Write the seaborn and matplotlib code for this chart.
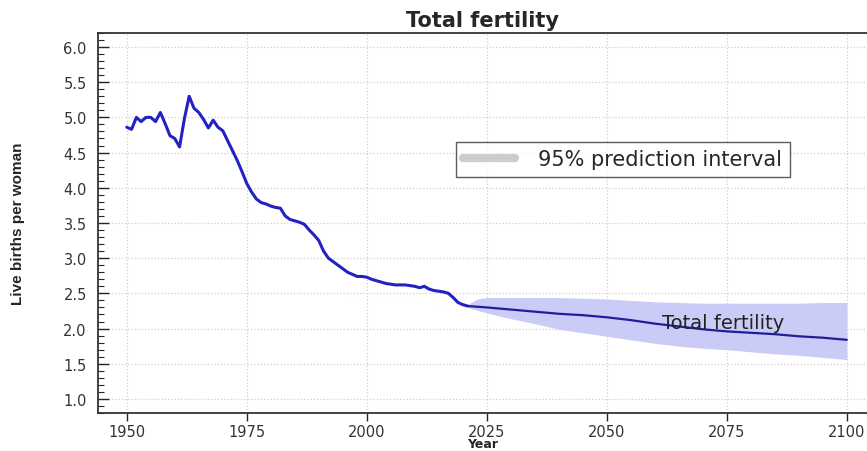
import numpy as np
import pandas as pd
import matplotlib
matplotlib.use("Agg")
import matplotlib.pyplot as plt
import seaborn as sns
from matplotlib.lines import Line2D
from matplotlib.ticker import MultipleLocator

# observed total fertility, 1950-2021
years_hist = list(range(1950, 2022))
tfr_hist = [4.86, 4.83, 5.00, 4.94, 5.00, 5.00, 4.94, 5.07, 4.91, 4.74,
            4.70, 4.58, 4.98, 5.30, 5.13, 5.07, 4.97, 4.85, 4.96, 4.86,
            4.81, 4.67, 4.53, 4.39, 4.23, 4.06, 3.94, 3.84, 3.79, 3.77,
            3.74, 3.72, 3.71, 3.60, 3.55, 3.53, 3.51, 3.48, 3.40, 3.33,
            3.25, 3.10, 3.00, 2.95, 2.90, 2.85, 2.80, 2.77, 2.74, 2.74,
            2.73, 2.70, 2.68, 2.66, 2.64, 2.63, 2.62, 2.62, 2.62, 2.61,
            2.60, 2.58, 2.60, 2.56, 2.54, 2.53, 2.52, 2.50, 2.44, 2.37,
            2.34, 2.32]

# projection with 95% prediction interval
years_proj = [2021, 2023, 2025, 2030, 2035, 2040, 2045, 2050, 2055, 2060,
              2065, 2070, 2075, 2080, 2085, 2090, 2095, 2100]
tfr_proj = [2.32, 2.31, 2.30, 2.27, 2.24, 2.21, 2.19, 2.16, 2.12, 2.07,
            2.03, 1.99, 1.96, 1.94, 1.92, 1.89, 1.87, 1.84]
pi_upper = [2.34, 2.42, 2.44, 2.44, 2.44, 2.44, 2.43, 2.42, 2.40, 2.38,
            2.37, 2.36, 2.36, 2.36, 2.36, 2.36, 2.37, 2.37]
pi_lower = [2.30, 2.26, 2.22, 2.14, 2.07, 1.99, 1.94, 1.89, 1.84, 1.79,
            1.75, 1.72, 1.70, 1.67, 1.64, 1.62, 1.59, 1.56]

hist = pd.DataFrame({"year": years_hist, "tfr": tfr_hist})
proj = pd.DataFrame({"year": years_proj, "tfr": tfr_proj,
                     "lo": pi_lower, "hi": pi_upper})

sns.set_style("white")
plt.rcParams["font.family"] = ["DejaVu Sans"]

fig = plt.figure(figsize=(8.67, 4.52), dpi=100)
ax = fig.add_axes([0.113, 0.084, 0.887, 0.841])

ax.fill_between(proj["year"], proj["lo"], proj["hi"], color="#cbcbf7", lw=0)
sns.lineplot(data=hist, x="year", y="tfr", ax=ax, color="#2222c4", lw=2.2)
sns.lineplot(data=proj, x="year", y="tfr", ax=ax, color="#1f1f9c", lw=1.6)

ax.text(2061.5, 2.09, "Total fertility", fontsize=14, color="#222222",
        va="center", ha="left")

ax.set_xlim(1944, 2104.2)
ax.set_ylim(0.8, 6.2)
ax.set_xticks([1950, 1975, 2000, 2025, 2050, 2075, 2100])
ax.set_yticks(np.arange(1.0, 6.01, 0.5))
ax.yaxis.set_minor_locator(MultipleLocator(0.1))
ax.set_yticklabels([f"{v:.1f}" for v in np.arange(1.0, 6.01, 0.5)])

ax.grid(True, which="major", color="#cfcfcf", linestyle=":", lw=0.9)
ax.tick_params(axis="y", which="major", direction="in", length=8, width=1,
               labelsize=10.5, labelcolor="#333333", pad=8, left=True)
ax.tick_params(axis="y", which="minor", direction="in", length=4, width=0.8, left=True)
ax.tick_params(axis="x", which="major", direction="out", length=6, width=1,
               labelsize=10.5, labelcolor="#333333", pad=2, bottom=True)

for side in ["left", "bottom", "top"]:
    ax.spines[side].set_color("#333333")
    ax.spines[side].set_linewidth(1.3)
ax.spines["right"].set_visible(False)

ax.set_title("Total fertility", fontsize=15, fontweight="bold", pad=5)
ax.set_xlabel("Year", fontsize=9, fontweight="bold")
ax.xaxis.set_label_coords(0.5, -0.064)
ax.set_ylabel("Live births per woman", fontsize=11, fontweight="bold",
              family=["Liberation Sans", "DejaVu Sans"])
ax.yaxis.set_label_coords(-0.095, 0.5)

handle = Line2D([], [], color="#cccccc", lw=6, solid_capstyle="round")
leg = ax.legend([handle], ["95% prediction interval"], loc="upper left",
                bbox_to_anchor=(0.4655, 0.713), fontsize=15, frameon=True,
                fancybox=False, edgecolor="#333333", handlelength=2.5,
                borderpad=0.35, handletextpad=1.1, borderaxespad=0)
leg.get_frame().set_linewidth(1.0)

fig.savefig("out.png", dpi=100)
